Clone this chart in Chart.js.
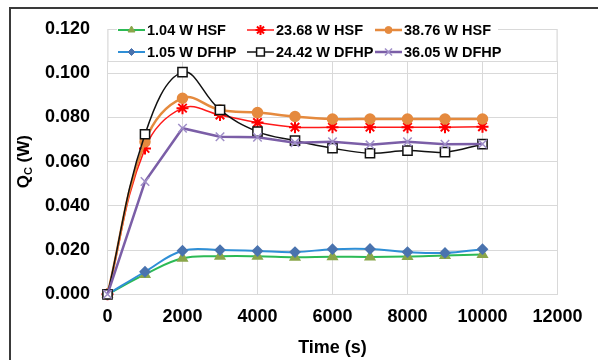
<!DOCTYPE html>
<html>
<head>
<meta charset="utf-8">
<script src="https://cdn.jsdelivr.net/npm/chart.js@4"></script>
<style>
    html, body { margin: 0; padding: 0; background: #fff; }
    #wrap { width: 598px; height: 360px; position: relative; }
</style>
</head>
<body>
<div id="wrap"><canvas id="myChart" width="598" height="360"></canvas></div>
<script>
// time in seconds
const times = [0, 1000, 2000, 3000, 4000, 5000, 6000, 7000, 8000, 9000, 10000];

// Qc (W) per case
const hsf104 = [0, 0.0090, 0.0163, 0.0172, 0.0172, 0.0168, 0.0170, 0.0169, 0.0171, 0.0176, 0.0180];
const hsf2368 = [0, 0.0660, 0.0842, 0.0811, 0.0777, 0.0756, 0.0756, 0.0756, 0.0756, 0.0756, 0.0758];
const hsf3876 = [0, 0.0690, 0.0887, 0.0834, 0.0822, 0.0804, 0.0793, 0.0793, 0.0793, 0.0793, 0.0793];
const dfhp105 = [0, 0.0102, 0.0197, 0.0200, 0.0196, 0.0191, 0.0204, 0.0205, 0.0191, 0.0187, 0.0204];
const dfhp2442 = [0, 0.0724, 0.1005, 0.0834, 0.0736, 0.0695, 0.0661, 0.0638, 0.0650, 0.0643, 0.0679];
const dfhp3605 = [0, 0.0510, 0.0751, 0.0713, 0.0710, 0.0686, 0.0690, 0.0676, 0.0690, 0.0679, 0.0680];

const seriesNames = ["1.04 W HSF", "23.68 W HSF", "38.76 W HSF", "1.05 W DFHP", "24.42 W DFHP", "36.05 W DFHP"];

const xTicks = [0, 2000, 4000, 6000, 8000, 10000, 12000];
const yTicks = [0, 0.02, 0.04, 0.06, 0.08, 0.1, 0.12];

function pts(vals) {
    return times.map((t, i) => ({ x: t, y: vals[i] }));
}

const gridColor = "#d9d9d9";
const fontFam = "'Liberation Sans', Arial, sans-serif";

const datasets = [
    { label: seriesNames[0], data: pts(hsf104), borderColor: "#2cba55", backgroundColor: "#8aa64a",
      pointBorderColor: "#8aa64a", pointStyle: "triangle", pointRadius: 5, borderWidth: 2, tension: 0.4 },
    { label: seriesNames[1], data: pts(hsf2368), borderColor: "#ff1a1a", backgroundColor: "#ff0000",
      pointBorderColor: "#ff0000", pointStyle: "star", pointRadius: 6, pointBorderWidth: 2, borderWidth: 1.5, tension: 0.4 },
    { label: seriesNames[2], data: pts(hsf3876), borderColor: "#e58a3e", backgroundColor: "#e58a3e",
      pointBorderColor: "#e58a3e", pointStyle: "circle", pointRadius: 4.5, borderWidth: 2.5, tension: 0.4 },
    { label: seriesNames[3], data: pts(dfhp105), borderColor: "#2f8fd6", backgroundColor: "#4a73ae",
      pointBorderColor: "#4a73ae", pointStyle: "rectRot", pointRadius: 4.5, borderWidth: 2, tension: 0.4 },
    { label: seriesNames[4], data: pts(dfhp2442), borderColor: "#111111", backgroundColor: "#ffffff",
      pointBorderColor: "#111111", pointStyle: "rect", pointRadius: 6.5, pointBorderWidth: 1.5, borderWidth: 1.5, tension: 0.4 },
    { label: seriesNames[5], data: pts(dfhp3605), borderColor: "#7b5ea7", backgroundColor: "#a08fc8",
      pointBorderColor: "#a08fc8", pointStyle: "crossRot", pointRadius: 6, pointBorderWidth: 1.5, borderWidth: 2.5, tension: 0 },
];
// later series sit on top like in Excel
datasets.forEach((d, i) => {
    d.order = 10 - i;
    d.fill = false;
    d.clip = false;
    d.pointHoverRadius = d.pointRadius;
});

// outer chart-area frame + white background
const framePlugin = {
    id: "frame",
    beforeDraw(chart) {
        const c = chart.ctx;
        c.save();
        c.fillStyle = "#fff";
        c.fillRect(0, 0, chart.width, chart.height);
        c.strokeStyle = "#3a3a3a";
        c.lineWidth = 2;
        c.beginPath();
        c.moveTo(10, chart.height + 2);
        c.lineTo(10, 8);
        c.lineTo(chart.width + 2, 8);
        c.stroke();
        c.restore();
    },
};

// y title with subscript
const yTitlePlugin = {
    id: "yTitle",
    afterDraw(chart) {
        const c = chart.ctx;
        const cy = (chart.chartArea.top + chart.chartArea.bottom) / 2;
        c.save();
        c.translate(24, cy);
        c.rotate(-Math.PI / 2);
        c.fillStyle = "#000";
        c.textBaseline = "middle";
        c.font = "bold 17px " + fontFam;
        const w1 = c.measureText("Q").width;
        c.font = "bold 11px " + fontFam;
        const w2 = c.measureText("C").width;
        c.font = "bold 17px " + fontFam;
        const w3 = c.measureText(" (W)").width;
        let x = -(w1 + w2 + w3) / 2;
        c.textAlign = "left";
        c.fillText("Q", x, 0);
        x += w1;
        c.font = "bold 11px " + fontFam;
        c.fillText("C", x, 5);
        x += w2;
        c.font = "bold 17px " + fontFam;
        c.fillText(" (W)", x, 0);
        c.restore();
    },
};

// legend box sitting inside the top of the plot
const legendPlugin = {
    id: "boxLegend",
    afterDatasetsDraw(chart) {
        const c = chart.ctx;
        const a = chart.chartArea;
        const top = a.top, bottom = 61;
        c.save();
        c.fillStyle = "#fff";
        c.fillRect(a.left, top, a.right - a.left, bottom - top);
        c.strokeStyle = gridColor;
        c.lineWidth = 1;
        c.strokeRect(a.left + 0.5, top + 0.5, a.right - a.left - 1, bottom - top);
        // the first row overlaps the box top
        c.fillStyle = "#fff";
        c.fillRect(117, top - 3, 381, 9);

        const cols = [118, 247, 375];
        const rows = [30, 52];
        c.font = "bold 14.5px " + fontFam;
        c.textBaseline = "middle";
        c.textAlign = "left";
        chart.data.datasets.forEach((ds, i) => {
            const x = cols[i % 3];
            const y = rows[Math.floor(i / 3)];
            c.strokeStyle = ds.borderColor;
            c.lineWidth = ds.borderWidth;
            c.beginPath();
            c.moveTo(x, y);
            c.lineTo(x + 27, y);
            c.stroke();
            c.fillStyle = ds.backgroundColor;
            c.strokeStyle = ds.pointBorderColor;
            c.lineWidth = ds.pointBorderWidth || 1;
            Chart.helpers.drawPoint(c, {
                pointStyle: ds.pointStyle,
                radius: ds.pointRadius - 1,
                borderWidth: ds.pointBorderWidth || 1,
                rotation: 0,
            }, x + 13.5, y);
            c.fillStyle = "#000";
            c.fillText(ds.label, x + 29, y + 1);
        });
        c.restore();
    },
};

const ctx = document.getElementById("myChart");
new Chart(ctx, {
    type: "line",
    data: { datasets: datasets },
    plugins: [framePlugin, legendPlugin, yTitlePlugin],
    options: {
        responsive: false,
        animation: false,
        layout: { padding: { left: 10, top: 29, right: 40.5, bottom: 0 } },
        plugins: {
            legend: { display: false },
            tooltip: { enabled: false },
        },
        scales: {
            x: {
                type: "linear",
                min: 0,
                max: 12000,
                afterBuildTicks(scale) {
                    scale.ticks = xTicks.map((v) => ({ value: v }));
                },
                afterFit(scale) {
                    scale.height = 65.7;
                },
                grid: { color: gridColor, drawTicks: false },
                border: { color: gridColor },
                ticks: {
                    padding: 12,
                    color: "#000",
                    font: { family: fontFam, size: 18, weight: "bold" },
                    callback: (v) => String(v),
                },
                title: {
                    display: true,
                    text: "Time (s)",
                    color: "#000",
                    font: { family: fontFam, size: 18, weight: "bold" },
                    padding: { top: 0, bottom: 1 },
                },
            },
            y: {
                min: 0,
                max: 0.12,
                afterBuildTicks(scale) {
                    scale.ticks = yTicks.map((v) => ({ value: v }));
                },
                afterFit(scale) {
                    scale.width = 97.5;
                },
                grid: { color: gridColor, drawTicks: false },
                border: { color: gridColor },
                ticks: {
                    padding: 17.5,
                    color: "#000",
                    font: { family: fontFam, size: 18, weight: "bold" },
                    callback: (v) => Number(v).toFixed(3),
                },
            },
        },
    },
});
</script>
</body>
</html>
